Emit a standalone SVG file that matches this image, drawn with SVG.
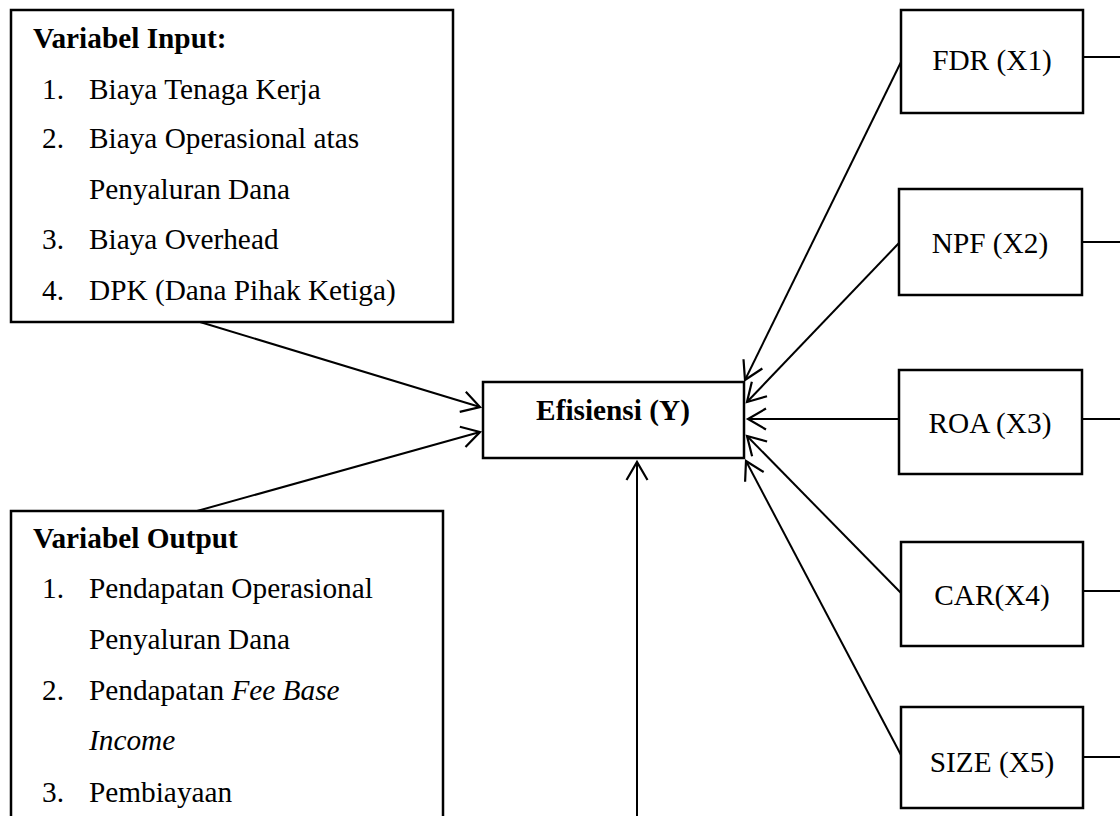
<svg xmlns="http://www.w3.org/2000/svg" width="1120" height="816" viewBox="0 0 1120 816">
<style>
.box{fill:#fff;stroke:#000;stroke-width:2.5}
.t{font-family:'Times New Roman','Liberation Serif',Tinos,'DejaVu Serif',serif;font-size:29.3px;fill:#000}
.b{font-weight:bold}
.i{font-style:italic}
.c{text-anchor:middle}
.ln{stroke:#000;stroke-width:2;fill:none}
.ar{stroke:#000;stroke-width:2;fill:none;marker-end:url(#ah)}
</style>
<defs>
<marker id="ah" markerUnits="userSpaceOnUse" markerWidth="40" markerHeight="40" refX="0" refY="0" viewBox="-20 -20 40 40" orient="auto" overflow="visible">
<path d="M-18,-10.5 L0,0 L-18,10.5" stroke="#000" stroke-width="2.2" fill="none"/>
</marker>
</defs>
<g id="connectors">
<line class="ar" x1="200" y1="322" x2="480" y2="407"/>
<line class="ar" x1="197" y1="511" x2="480" y2="432"/>
<line class="ar" x1="901" y1="62" x2="745" y2="380"/>
<line class="ar" x1="899" y1="243" x2="747" y2="402"/>
<line class="ar" x1="899" y1="419" x2="748" y2="419"/>
<line class="ar" x1="901" y1="593" x2="747" y2="436"/>
<line class="ar" x1="901" y1="755" x2="746" y2="461"/>
<line class="ar" x1="637" y1="816" x2="637" y2="462"/>
<line class="ln" x1="1083" y1="57" x2="1120" y2="57"/>
<line class="ln" x1="1082" y1="242" x2="1120" y2="242"/>
<line class="ln" x1="1082" y1="419" x2="1120" y2="419"/>
<line class="ln" x1="1083" y1="591" x2="1120" y2="591"/>
<line class="ln" x1="1083" y1="757" x2="1120" y2="757"/>
</g>
<g id="input">
<rect class="box" x="11" y="10" width="442" height="312"/>
<text class="t b" x="33" y="48">Variabel Input:</text>
<text class="t" x="42" y="99">1.</text><text class="t" x="89" y="99">Biaya Tenaga Kerja</text>
<text class="t" x="42" y="148">2.</text><text class="t" x="89" y="148">Biaya Operasional atas</text>
<text class="t" x="89" y="199">Penyaluran Dana</text>
<text class="t" x="42" y="249">3.</text><text class="t" x="89" y="249">Biaya Overhead</text>
<text class="t" x="42" y="300">4.</text><text class="t" x="89" y="300">DPK (Dana Pihak Ketiga)</text>
</g>
<g id="output">
<rect class="box" x="11" y="511" width="432" height="330"/>
<text class="t b" x="33" y="548">Variabel Output</text>
<text class="t" x="42" y="598">1.</text><text class="t" x="89" y="598">Pendapatan Operasional</text>
<text class="t" x="89" y="649">Penyaluran Dana</text>
<text class="t" x="42" y="700">2.</text><text class="t" x="89" y="700">Pendapatan <tspan class="i">Fee Base</tspan></text>
<text class="t i" x="89" y="750">Income</text>
<text class="t" x="42" y="802">3.</text><text class="t" x="89" y="802">Pembiayaan</text>
</g>
<g id="efisiensi">
<rect class="box" x="483" y="382" width="261" height="76"/>
<text class="t b c" x="613" y="420">Efisiensi (Y)</text>
</g>
<g id="fdr">
<rect class="box" x="901" y="10" width="182" height="103"/>
<text class="t c" x="992" y="70">FDR (X1)</text>
</g>
<g id="npf">
<rect class="box" x="899" y="189" width="183" height="106"/>
<text class="t c" x="990" y="253">NPF (X2)</text>
</g>
<g id="roa">
<rect class="box" x="899" y="370" width="183" height="104"/>
<text class="t c" x="990" y="433">ROA (X3)</text>
</g>
<g id="car">
<rect class="box" x="901" y="542" width="182" height="104"/>
<text class="t c" x="992" y="605">CAR(X4)</text>
</g>
<g id="size">
<rect class="box" x="901" y="707" width="182" height="101"/>
<text class="t c" x="992" y="772">SIZE (X5)</text>
</g>
</svg>
